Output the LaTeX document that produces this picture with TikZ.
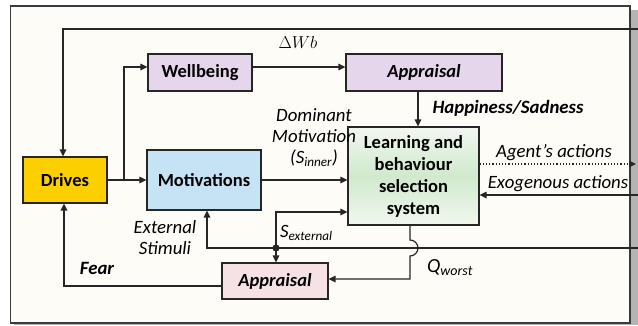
\documentclass[tikz,border=0pt]{standalone}
\usepackage{fontspec}
\setmainfont{Carlito}
\usetikzlibrary{arrows.meta}
\definecolor{bgc}{HTML}{FDFCF6}
\definecolor{framec}{HTML}{3A3A3A}
\definecolor{linec}{HTML}{262626}
\definecolor{drivesc}{HTML}{FCD000}
\definecolor{lavc}{HTML}{E6D6EC}
\definecolor{bluec}{HTML}{C6E2F5}
\definecolor{pinkc}{HTML}{F6E2E5}
\definecolor{greenmid}{HTML}{D0E9CD}
\definecolor{greenedge}{HTML}{F1F8EF}
\definecolor{shadowc}{HTML}{B4B4B4}
\begin{document}
\begin{tikzpicture}[x=1pt,y=-1pt,
  box/.style={draw=linec, line width=1.1pt, inner sep=0pt, align=center,
    font=\fontsize{18.5}{22}\selectfont\bfseries},
  lbl/.style={inner sep=0pt, align=center, font=\fontsize{18.8}{21}\selectfont\itshape},
  arr/.style={draw=linec, line width=1.2pt, -{Triangle[length=7pt,width=6.5pt]}},
  ln/.style={draw=linec, line width=1.2pt}]
\useasboundingbox (0,0) rectangle (638,325);
% frame and shadow
\fill[shadowc] (630,10) rectangle (638,325);
\fill[shadowc] (14,323) rectangle (638,325);
\draw[fill=bgc, draw=framec, line width=1.2pt] (10.5,6) rectangle (630,323);
% boxes
\node[box, fill=drivesc, minimum width=84pt, minimum height=46pt] (drives) at (65,180) {Drives};
\node[box, fill=lavc, minimum width=104pt, minimum height=37pt] (wb) at (200,72.5) {Wellbeing};
\node[box, fill=lavc, minimum width=156pt, minimum height=37pt, font=\fontsize{18.5}{22}\selectfont\bfseries\itshape] (app1) at (424,72.5) {Appraisal};
\node[box, fill=bluec, minimum width=114pt, minimum height=60pt] (mot) at (204,180) {Motivations};
\node[box, top color=greenedge, bottom color=greenedge, middle color=greenmid, minimum width=131pt, minimum height=98pt] (learn) at (413.5,176) {Learning and\\behaviour\\selection\\system};
\node[box, fill=pinkc, minimum width=106pt, minimum height=36pt, font=\fontsize{18.5}{22}\selectfont\bfseries\itshape] (app2) at (275,281) {Appraisal};
% coordinates
\coordinate (topin) at (638,29);
\coordinate (br) at (124,180);
\coordinate (sj) at (276,248);
\coordinate (extin) at (638,248);
\coordinate (agout) at (636,164);
\coordinate (exin) at (638,195);
\coordinate (qa) at (410,240);
\coordinate (qc) at (410,279);
% connectors
\draw[arr] (topin) -| ([xshift=-2pt]drives.north);
\draw[arr] (drives.east) -- (drives.east -| mot.west);
\draw[arr] (br) |- ([yshift=5.5pt]wb.west);
\draw[arr] ([yshift=5.5pt]wb.east) -- ([yshift=5.5pt]wb.east -| app1.west);
\draw[arr] ([xshift=-6pt]app1.south) -- ([xshift=-6pt]app1.south |- learn.north);
\draw[arr] (mot.east) -- (mot.east -| learn.west);
\draw[arr] (extin) -| ([xshift=3pt]mot.south);
\draw[arr] (sj) |- ([yshift=-36pt]learn.west);
\draw[arr] (sj) -- (sj |- app2.north);
\fill[linec] (sj) circle (3.6);
\draw[arr] (learn.south -| qa) -- (qa) arc(-90:90:8) -- (qc) -- (qc -| app2.east);
\draw[arr] ([yshift=-5pt]app2.west) -| ([xshift=-1pt]drives.south);
\draw[arr, dash pattern=on 1.3pt off 1.9pt] (agout -| learn.east) -- (agout);
\draw[arr] (exin) -- (exin -| learn.east);
% labels
\node[lbl, font=\fontsize{18.5}{21}\selectfont] (dwb) at (298,42) {$\Delta Wb$};
\node[lbl, font=\fontsize{18.8}{21}\selectfont\bfseries\itshape] (hs) at (508,108) {Happiness/Sadness};
\node[lbl] (dom) at (314,138) {Dominant\\Motivation\\(S\textsubscript{inner})};
\node[lbl] (ag) at (554,153) {Agent’s actions};
\node[lbl] (exo) at (558,184) {Exogenous actions};
\node[lbl] (es) at (165,238) {External\\Stimuli};
\node[lbl, font=\fontsize{18.8}{21}\selectfont\bfseries\itshape] (fear) at (97,268) {Fear};
\node[lbl, anchor=west] (sext) at (280,233) {S\textsubscript{external}};
\node[lbl, anchor=west, font=\fontsize{20}{21}\selectfont\itshape] (qw) at (427,268) {Q\textsubscript{worst}};
\end{tikzpicture}
\end{document}
